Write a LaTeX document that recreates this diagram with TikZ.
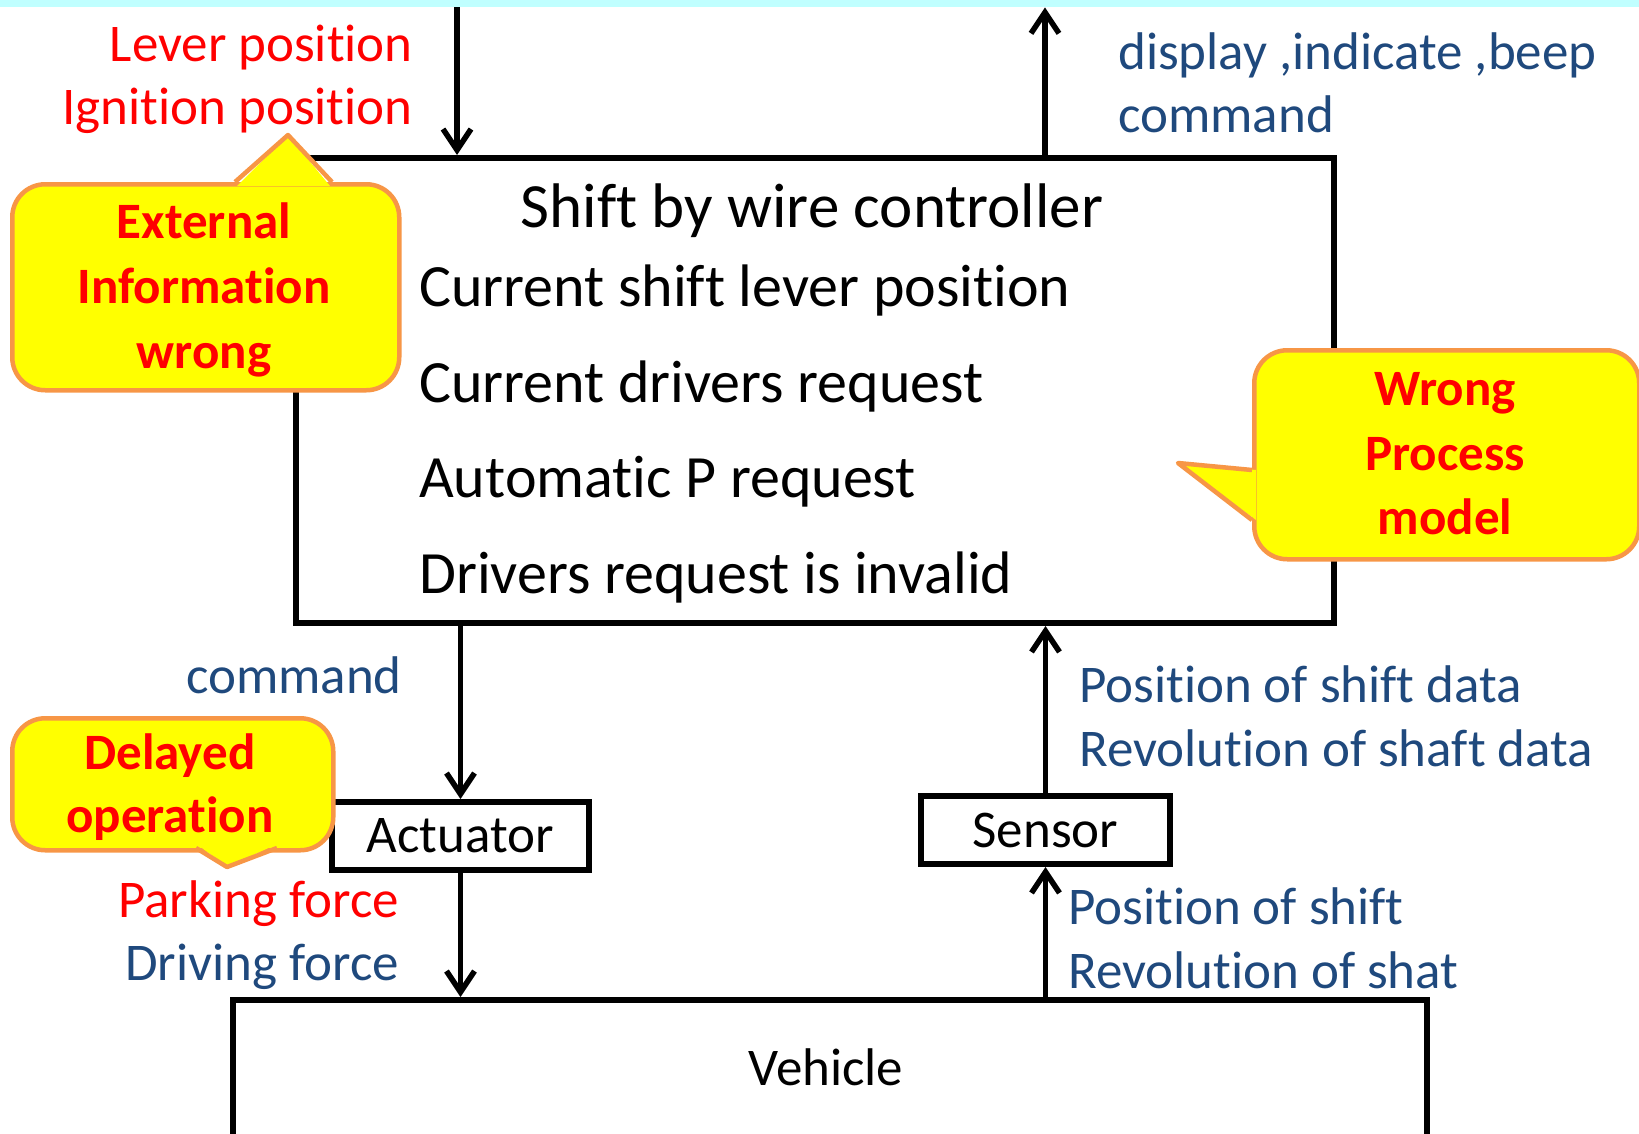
\documentclass[tikz,border=0pt]{standalone}
\usepackage{fontspec}
\setmainfont[Ligatures=NoCommon]{Carlito}
\usetikzlibrary{arrows.meta}
\definecolor{sigblue}{RGB}{31,73,125}
\definecolor{sigred}{RGB}{255,0,0}
\definecolor{notefill}{RGB}{255,255,0}
\definecolor{noteedge}{RGB}{247,150,70}
\definecolor{busfill}{RGB}{192,255,255}
\begin{document}
\begin{tikzpicture}[x=1pt,y=-1pt,
  blk/.style={draw=black, line width=6pt, fill=white, inner sep=0pt},
  conn/.style={line width=5.5pt, -{Straight Barb[length=21pt,width=28pt,line width=5.5pt]}},
  lbl/.style={inner sep=0pt, font=\fontsize{53}{64}\selectfont},
  redlbl/.style={lbl, text=sigred},
  bluelbl/.style={lbl, text=sigblue},
  stateline/.style={inner sep=0pt, anchor=base west, font=\fontsize{60}{72}\selectfont},
  notebox/.style={draw=noteedge, fill=notefill, line width=4.5pt, rounded corners=33pt, inner sep=0pt},
  notetxt/.style={inner sep=0pt, text=sigred, anchor=base, font=\fontsize{51}{62}\selectfont\bfseries},
]
\useasboundingbox (0,0) rectangle (1639,1133);
\clip (0,0) rectangle (1639,1133);

% upper bus (cut off at the top edge)
\node[fill=busfill, inner sep=0pt, minimum width=1639pt, minimum height=7pt, anchor=north west] (bus) at (0,0) {};

% column guides for the vertical connectors
\coordinate (xa) at (457,0);
\coordinate (xb) at (1045,0);

% controller
\node[blk, minimum width=1038pt, minimum height=465pt, anchor=north west] (ctrl) at (293,155) {};
\node[inner sep=0pt, anchor=base, font=\fontsize{63}{75}\selectfont] (title) at (812,227) {Shift by wire controller};
\node[stateline] (s1) at (419,306) {Current shift lever position};
\node[stateline] (s2) at (419,402) {Current drivers request};
\node[stateline] (s3) at (419,497) {Automatic P request};
\node[stateline] (s4) at (419,593) {Drivers request is invalid};

% actuator, sensor, vehicle
\node[blk, minimum width=257pt, minimum height=68pt, anchor=north west, font=\fontsize{53}{64}\selectfont] (act) at (329,799) {Actuator};
\node[blk, minimum width=249pt, minimum height=68pt, anchor=north west, font=\fontsize{53}{64}\selectfont] (sen) at (918,793) {Sensor};
\node[blk, minimum width=1194pt, minimum height=220pt, anchor=north west] (veh) at (230,997) {};
\node[inner sep=0pt, anchor=base, font=\fontsize{53}{64}\selectfont] (vehtxt) at (826,1085) {Vehicle};

% connectors
\draw[conn] (bus.south -| xa) -- (ctrl.north -| xa);
\draw[conn] (ctrl.north -| xb) -- (bus.south -| xb);
\draw[conn] (ctrl.south -| act) -- (act.north);
\draw[conn] (act.south) -- (veh.north -| act);
\draw[conn] (sen.north) -- (ctrl.south -| sen);
\draw[conn] (veh.north -| sen) -- (sen.south);

% signal labels
\node[redlbl, anchor=base east] (lev) at (413,61) {Lever position};
\node[redlbl, anchor=base east] (ign) at (413,124) {Ignition position};
\node[bluelbl, anchor=base west] (disp) at (1118,69) {display ,indicate ,beep};
\node[bluelbl, anchor=base west] (dcmd) at (1118,132) {command};
\node[bluelbl, anchor=base east] (acmd) at (402,693) {command};
\node[redlbl, anchor=base east] (park) at (399,917) {Parking force};
\node[bluelbl, anchor=base east] (drive) at (399,980) {Driving force};
\node[bluelbl, anchor=base west] (posd) at (1079,702) {Position of shift data};
\node[bluelbl, anchor=base west] (revd) at (1079,766) {Revolution of shaft data};
\node[bluelbl, anchor=base west] (pos) at (1068,924) {Position of shift};
\node[bluelbl, anchor=base west] (rev) at (1068,988) {Revolution of shat};

% callout: external information
\node[notebox, minimum width=387pt, minimum height=206pt, anchor=north west] (extnote) at (10,182) {};
\fill[notefill] (237,186) -- (288,135) -- (330,186) -- cycle;
\draw[noteedge, line width=4.5pt, line join=round] (235,182) -- (288,135) -- (332,182);
\node[notetxt] (ext1) at (204,238) {External};
\node[notetxt] (ext2) at (204,303) {Information};
\node[notetxt] (ext3) at (204,368) {wrong};

% callout: process model
\node[notebox, minimum width=385pt, minimum height=209pt, anchor=north west] (pmnote) at (1252,348) {};
\fill[notefill] (1256,470) -- (1178,463) -- (1256,520) -- cycle;
\draw[noteedge, line width=4.5pt, line join=round] (1252,470) -- (1178,463) -- (1252,520);
\node[notetxt] (pm1) at (1445,405) {Wrong};
\node[notetxt] (pm2) at (1445,470) {Process};
\node[notetxt] (pm3) at (1445,534) {model};

% callout: delayed operation
\node[notebox, minimum width=321pt, minimum height=132pt, anchor=north west] (dlnote) at (10,716) {};
\fill[notefill] (198,845) -- (227,867) -- (275,845) -- cycle;
\draw[noteedge, line width=4.5pt, line join=round] (196,848) -- (227,867) -- (277,848);
\node[notetxt] (dl1) at (170,769) {Delayed};
\node[notetxt] (dl2) at (170,832) {operation};
\end{tikzpicture}
\end{document}
